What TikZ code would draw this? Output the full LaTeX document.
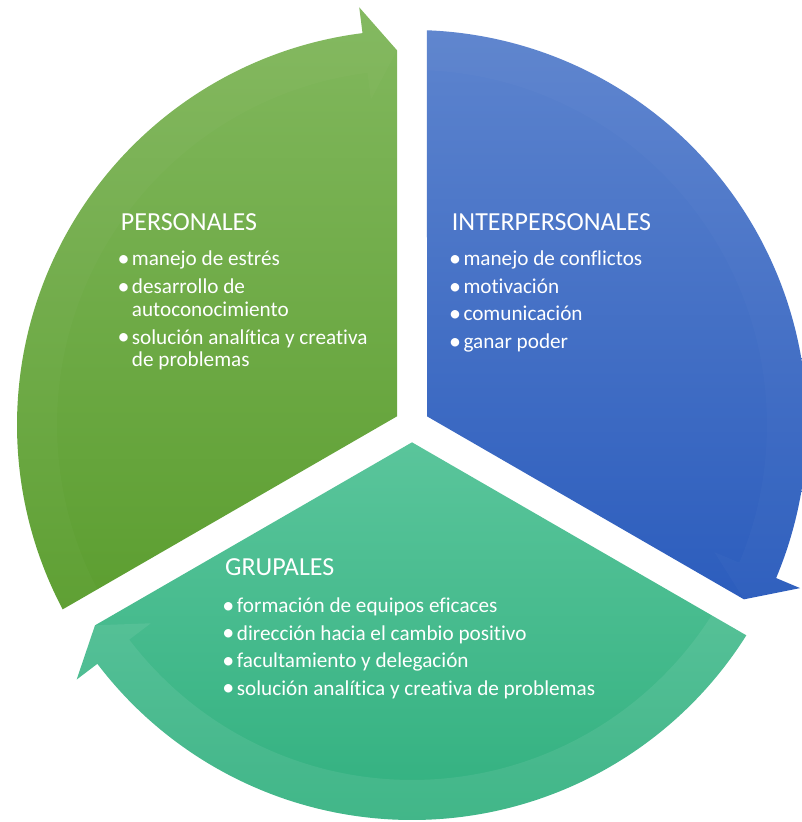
\documentclass[tikz,border=0pt]{standalone}
\usepackage{fontspec}
\setmainfont{Carlito}[Ligatures=NoCommon]
\definecolor{gtop}{HTML}{82B85E}
\definecolor{gbot}{HTML}{5C9E30}
\definecolor{btop}{HTML}{5D84CE}
\definecolor{bbot}{HTML}{2C5DBD}
\definecolor{ttop}{HTML}{5AC59B}
\definecolor{tbot}{HTML}{31B07F}
\tikzset{
  ttl/.style={anchor=base west, inner sep=0pt, text=white, font=\fontsize{26}{31}\selectfont},
  itm/.style={anchor=base west, inner sep=0pt, text=white, font=\fontsize{21.2}{25}\selectfont},
  bul/.style={inner sep=0pt, text=white, font=\fontsize{24}{24}\selectfont},
  overlay/.style={fill=white, opacity=#1},
}
\begin{document}
\begin{tikzpicture}[x=1pt,y=1pt]
\clip (0,0) rectangle (802,822);
\begin{scope}[shift={(412,397)}]
  % PERSONALES segment (green)
  \path[top color=gtop, bottom color=gbot]
    (150:17.32) -- (207.824:395) arc[start angle=207.824, end angle=97.2, radius=395]
    -- (97.2:421) -- (92.292:375) -- cycle;
  \path[overlay=0.025]
    (207.578:355) arc[start angle=207.578, end angle=97.2, radius=355]
    -- (97.2:328) -- (92.292:375) -- (97.2:421) -- (97.2:395)
    arc[start angle=97.2, end angle=207.824, radius=395] -- cycle;
  % INTERPERSONALES segment (blue)
  \path[top color=btop, bottom color=bbot]
    (30:17.32) -- (87.824:395) arc[start angle=87.824, end angle=-22.8, radius=395]
    -- (-22.8:421) -- (-27.708:375) -- cycle;
  \path[overlay=0.02]
    (87.578:355) arc[start angle=87.578, end angle=-22.8, radius=355]
    -- (-22.8:328) -- (-27.708:375) -- (-22.8:421) -- (-22.8:395)
    arc[start angle=-22.8, end angle=87.824, radius=395] -- cycle;
  % GRUPALES segment (teal)
  \path[top color=ttop, bottom color=tbot]
    (-90:17.32) -- (-32.176:395) arc[start angle=-32.176, end angle=-142.8, radius=395]
    -- (-142.8:421) -- (-147.708:375) -- cycle;
  \path[overlay=0.08]
    (-32.422:355) arc[start angle=-32.422, end angle=-142.8, radius=355]
    -- (-142.8:328) -- (-147.708:375) -- (-142.8:421) -- (-142.8:395)
    arc[start angle=-142.8, end angle=-32.176, radius=395] -- cycle;
\end{scope}

% PERSONALES text
\node[ttl] (p0) at (120.7,591.3) {PERSONALES};
\node[bul] (pb1) at (123.5,561.0) {•};
\node[itm] (p1) at (131.7,556.3) {manejo de estrés};
\node[bul] (pb2) at (123.5,533.0) {•};
\node[itm] (p2) at (131.7,528.3) {desarrollo de};
\node[itm] (p2b) at (131.7,505.8) {autoconocimiento};
\node[bul] (pb3) at (123.5,482.5) {•};
\node[itm] (p3) at (131.7,477.8) {solución analítica y creativa};
\node[itm] (p3b) at (131.7,455.3) {de problemas};

% INTERPERSONALES text
\node[ttl] (i0) at (451.7,591.3) {INTERPERSONALES};
\node[bul] (ib1) at (455,561.0) {•};
\node[itm] (i1) at (463.3,556.3) {manejo de conflictos};
\node[bul] (ib2) at (455,533.4) {•};
\node[itm] (i2) at (463.3,528.7) {motivación};
\node[bul] (ib3) at (455,505.8) {•};
\node[itm] (i3) at (463.3,501.1) {comunicación};
\node[bul] (ib4) at (455,478.2) {•};
\node[itm] (i4) at (463.3,473.5) {ganar poder};

% GRUPALES text
\node[ttl] (g0) at (225,246) {GRUPALES};
\node[bul] (gb1) at (228.3,214.0) {•};
\node[itm] (g1) at (236.7,209.3) {formación de equipos eficaces};
\node[bul] (gb2) at (228.3,186.5) {•};
\node[itm] (g2) at (236.7,181.8) {dirección hacia el cambio positivo};
\node[bul] (gb3) at (228.3,159.0) {•};
\node[itm] (g3) at (236.7,154.3) {facultamiento y delegación};
\node[bul] (gb4) at (228.3,131.5) {•};
\node[itm] (g4) at (236.7,126.8) {solución analítica y creativa de problemas};
\end{tikzpicture}
\end{document}
